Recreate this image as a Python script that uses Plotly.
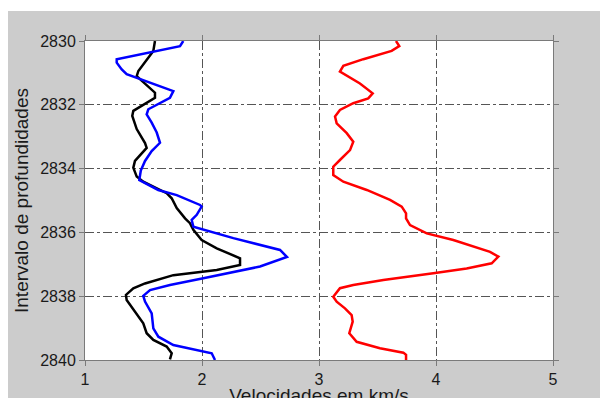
import plotly.graph_objects as go

# Black curve
depth_black = [2830.00, 2830.31, 2830.94, 2831.10, 2831.62, 2831.78, 2832.19, 2832.35, 2832.76,
               2833.20, 2833.35, 2833.76, 2833.97, 2834.25, 2834.41, 2834.77, 2834.93, 2835.24,
               2835.56, 2835.71, 2835.92, 2836.24, 2836.50, 2836.71, 2836.81, 2837.02, 2837.18,
               2837.34, 2837.60, 2837.75, 2837.96, 2838.12, 2838.54, 2838.85, 2839.16, 2839.37,
               2839.58, 2839.79, 2839.98]
vel_black = [1.598, 1.584, 1.456, 1.442, 1.598, 1.598, 1.413, 1.404, 1.442,
             1.513, 1.527, 1.427, 1.413, 1.442, 1.498, 1.698, 1.741, 1.784,
             1.855, 1.897, 1.926, 1.997, 2.126, 2.268, 2.325, 2.325, 2.126,
             1.755, 1.513, 1.413, 1.350, 1.356, 1.442, 1.498, 1.527, 1.584,
             1.698, 1.741, 1.726]

# Blue curve
depth_blue = [2830.00, 2830.16, 2830.57, 2830.68, 2830.89, 2831.04, 2831.57, 2831.78, 2832.14,
              2832.30, 2832.56, 2832.87, 2833.19, 2833.45, 2833.76, 2834.06, 2834.36, 2834.67,
              2834.83, 2835.14, 2835.19, 2835.45, 2835.61, 2835.82, 2836.18, 2836.55, 2836.77,
              2837.07, 2837.44, 2837.65, 2837.81, 2837.99, 2838.17, 2838.54, 2839.01, 2839.27,
              2839.53, 2839.69, 2839.79, 2840.00]
vel_blue = [1.840, 1.812, 1.271, 1.271, 1.314, 1.356, 1.755, 1.726, 1.541,
            1.527, 1.570, 1.613, 1.641, 1.570, 1.513, 1.477, 1.464, 1.626,
            1.784, 1.983, 1.997, 1.955, 1.912, 1.926, 2.268, 2.667, 2.726,
            2.496, 2.011, 1.726, 1.556, 1.498, 1.513, 1.570, 1.584, 1.627,
            1.755, 1.969, 2.083, 2.111]

# Red curve
depth_red = [2830.00, 2830.16, 2830.31, 2830.57, 2830.78, 2830.96, 2831.33, 2831.64, 2831.80,
             2831.95, 2832.16, 2832.37, 2832.58, 2832.89, 2833.16, 2833.42, 2833.73, 2833.94,
             2834.20, 2834.41, 2834.67, 2834.98, 2835.19, 2835.40, 2835.56, 2835.77, 2836.03,
             2836.24, 2836.61, 2836.76, 2836.97, 2837.13, 2837.28, 2837.49, 2837.65, 2837.75,
             2838.02, 2838.17, 2838.38, 2838.59, 2838.80, 2839.16, 2839.43, 2839.63, 2839.77,
             2839.84, 2840.00]
vel_red = [3.658, 3.686, 3.621, 3.379, 3.208, 3.179, 3.350, 3.459, 3.421,
           3.293, 3.179, 3.137, 3.151, 3.237, 3.293, 3.265, 3.179, 3.122,
           3.122, 3.208, 3.408, 3.607, 3.707, 3.744, 3.744, 3.778, 3.921,
           4.148, 4.462, 4.533, 4.476, 4.262, 3.977, 3.550, 3.293, 3.179,
           3.122, 3.151, 3.222, 3.279, 3.288, 3.259, 3.322, 3.521, 3.721,
           3.744, 3.744]

x_ticks = [1, 2, 3, 4, 5]
y_ticks = [2830, 2832, 2834, 2836, 2838, 2840]

fig = go.Figure()
for xs, ys, col in [(vel_black, depth_black, "#000000"),
                    (vel_blue, depth_blue, "#0000ff"),
                    (vel_red, depth_red, "#ff0000")]:
    fig.add_trace(go.Scatter(x=xs, y=ys, mode="lines",
                             line=dict(color=col, width=2.5), showlegend=False))

axis_common = dict(
    showline=True, linecolor="#7a7a7a", linewidth=1, mirror="ticks",
    ticks="outside", ticklen=5, tickcolor="#7a7a7a", tickwidth=1,
    showgrid=True, gridcolor="#555555", gridwidth=1, griddash="dashdot",
    zeroline=False,
    tickfont=dict(family="Liberation Sans, Arial, sans-serif", size=16, color="#1a1a1a"),
)

fig.update_xaxes(range=[1, 5], tickvals=x_ticks, ticktext=[str(v) for v in x_ticks],
                 title=dict(text="Velocidades em km/s", standoff=2,
                            font=dict(family="Liberation Sans, Arial, sans-serif", size=19, color="#1a1a1a")),
                 automargin=False, **axis_common)
fig.update_yaxes(range=[2840, 2830], tickvals=y_ticks, ticktext=[str(v) for v in y_ticks],
                 title=dict(text="Intervalo de profundidades", standoff=6,
                            font=dict(family="Liberation Sans, Arial, sans-serif", size=19, color="#1a1a1a")),
                 automargin=False, **axis_common)

fig.update_layout(
    width=608, height=398,
    margin=dict(l=77, r=63, t=33, b=46),
    paper_bgcolor="#cccccc", plot_bgcolor="#ffffff",
    shapes=[
        dict(type="rect", xref="paper", yref="paper", x0=-0.3, x1=1.3, y0=1.094, y1=1.3,
             fillcolor="#ffffff", line=dict(width=0), layer="below"),
    ],
)

fig.write_html("out.html")
